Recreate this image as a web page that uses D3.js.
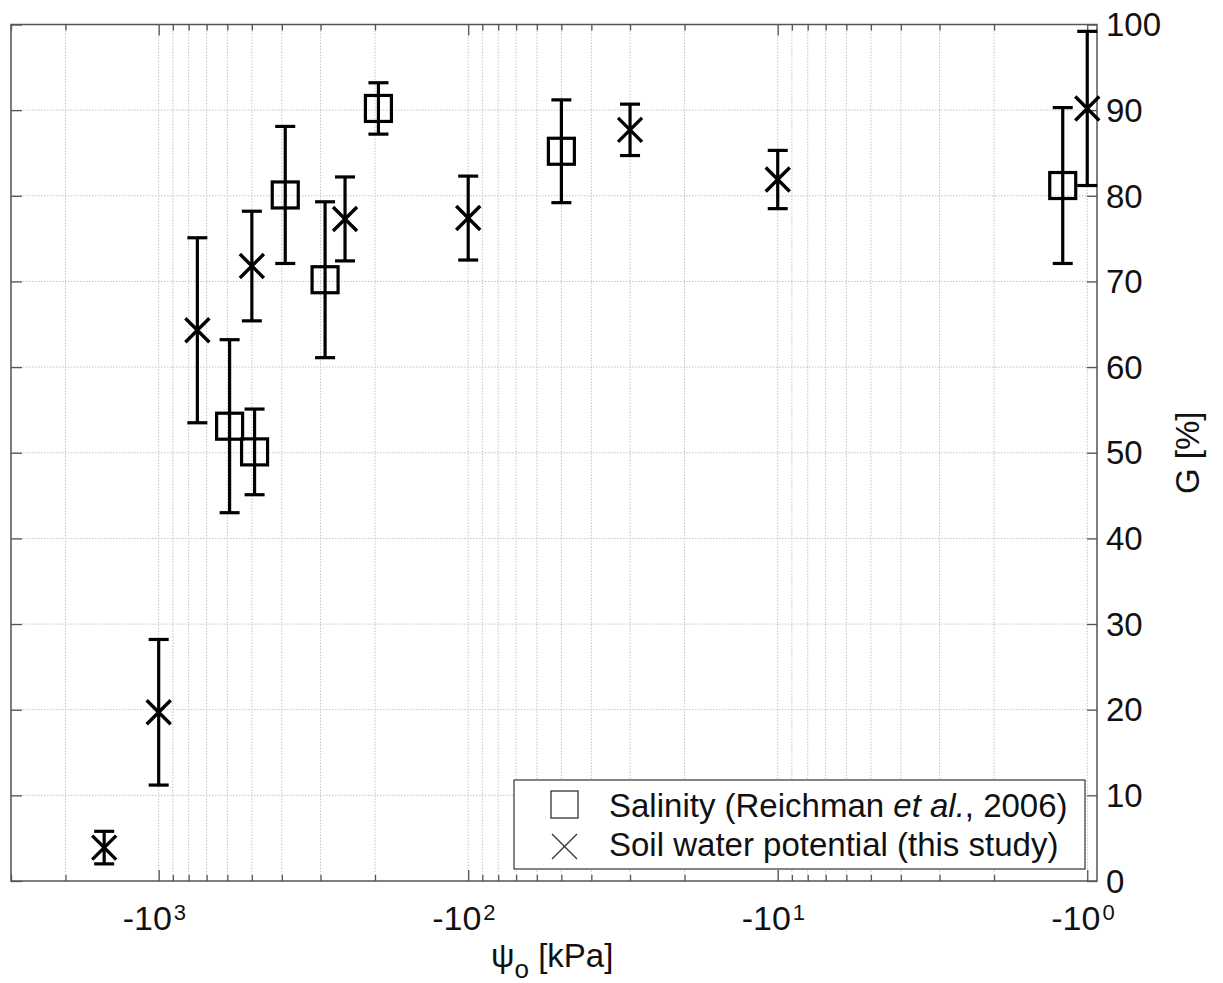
<!DOCTYPE html>
<html>
<head>
<meta charset="utf-8">
<script src="https://cdn.jsdelivr.net/npm/d3@7"></script>
<style>
  html, body { margin: 0; padding: 0; background: #fff; }
  svg { display: block; font-family: "Liberation Sans", Arial, sans-serif; }
</style>
</head>
<body>
<svg id="chart" width="1223" height="983"></svg>
<script>
// ---------------- data ----------------
// x values are magnitudes of osmotic potential (kPa); axis shows them as negatives
const salinityX   = [590, 490, 390, 290, 195, 50, 1.2];
const salinityG   = [53.1, 50.1, 80.1, 70.2, 90.2, 85.2, 81.2];
const salinityErr = [10.1, 5.0, 8.0, 9.1, 3.0, 6.0, 9.1];

const soilX   = [1500, 1000, 750, 500, 250, 100, 30, 10, 1];
const soilG   = [3.9, 19.7, 64.3, 71.8, 77.3, 77.4, 87.7, 81.9, 90.2];
const soilErr = [1.9, 8.5, 10.8, 6.4, 4.9, 4.9, 3.0, 3.4, 9.0];

const xDomain = [3000, 0.93];
const yDomain = [0, 100];
const xMajorTicks = [1000, 100, 10, 1];
const xTickExponents = ["3", "2", "1", "0"];
const yTicks = [0, 10, 20, 30, 40, 50, 60, 70, 80, 90, 100];

const legendLabels = ["Salinity (Reichman ", "et al.", ", 2006)"];
const legendLabel2 = "Soil water potential (this study)";
const xTitle = ["ψ", "o", " [kPa]"];
const yTitle = "G [%]";

// ---------------- layout ----------------
const L = 11, R = 1097, T = 24.5, B = 881;
const svg = d3.select("#chart");
const x = d3.scaleLog().domain(xDomain).range([L, R]);
const y = d3.scaleLinear().domain(yDomain).range([B, T]);

const allXTicks = x.ticks().filter(v => v <= xDomain[0] && v >= xDomain[1]);
const minorXTicks = allXTicks.filter(v => !xMajorTicks.includes(v));

// grid
const grid = svg.append("g").attr("stroke", "#c4c4c4").attr("stroke-width", 1)
  .attr("stroke-dasharray", "1.5,1.5").attr("fill", "none");
grid.selectAll("line.gx").data(allXTicks).join("line")
  .attr("x1", d => x(d)).attr("x2", d => x(d)).attr("y1", T).attr("y2", B);
grid.selectAll("line.gy").data(yTicks.filter(v => v > 0 && v < 100)).join("line")
  .attr("y1", d => y(d)).attr("y2", d => y(d)).attr("x1", L).attr("x2", R);

// axes (ticks inward)
function styleAxis(g) {
  g.select(".domain").remove();
  g.selectAll(".tick line").attr("stroke", "#555").attr("stroke-width", 1.3);
  g.selectAll("text").remove();
}
svg.append("g").attr("transform", `translate(0,${B})`)
  .call(d3.axisBottom(x).tickValues(minorXTicks).tickSize(-6)).call(styleAxis);
svg.append("g").attr("transform", `translate(0,${B})`)
  .call(d3.axisBottom(x).tickValues(xMajorTicks).tickSize(-11)).call(styleAxis);
svg.append("g").attr("transform", `translate(0,${T})`)
  .call(d3.axisTop(x).tickValues(minorXTicks).tickSize(-6)).call(styleAxis);
svg.append("g").attr("transform", `translate(0,${T})`)
  .call(d3.axisTop(x).tickValues(xMajorTicks).tickSize(-11)).call(styleAxis);
svg.append("g").attr("transform", `translate(${L},0)`)
  .call(d3.axisLeft(y).tickValues(yTicks).tickSize(-11)).call(styleAxis);

const yAxisR = svg.append("g").attr("transform", `translate(${R},0)`)
  .call(d3.axisRight(y).tickValues(yTicks).tickSize(-10).tickPadding(9));
yAxisR.select(".domain").remove();
yAxisR.selectAll(".tick line").attr("stroke", "#555").attr("stroke-width", 1.3);
yAxisR.selectAll("text").attr("font-size", 33).attr("fill", "#111")
  .attr("font-family", "Liberation Sans, Arial, sans-serif").attr("dy", "0.34em");

// frame
svg.append("rect").attr("x", L).attr("y", T).attr("width", R - L).attr("height", B - T)
  .attr("fill", "none").attr("stroke", "#555").attr("stroke-width", 1.5);

// x tick labels -10^k
const xl = svg.append("g").attr("fill", "#111");
xMajorTicks.forEach((v, i) => {
  const t = xl.append("text").attr("x", x(v) - 36).attr("y", 930).attr("font-size", 34);
  t.append("tspan").text("-10");
  t.append("tspan").attr("dx", 2).attr("dy", -10).attr("font-size", 22).text(xTickExponents[i]);
});

// axis titles
const xt = svg.append("text").attr("x", (L + R) / 2 - 63).attr("y", 967)
  .attr("font-size", 33).attr("fill", "#111");
xt.append("tspan").text(xTitle[0]);
xt.append("tspan").attr("dy", 11).attr("font-size", 26).text(xTitle[1]);
xt.append("tspan").attr("dy", -11).text(xTitle[2]);

svg.append("text").attr("transform", `translate(1199,${(T + B) / 2}) rotate(-90)`)
  .attr("text-anchor", "middle").attr("font-size", 33).attr("fill", "#111").text(yTitle);

// error bars
const capHalf = 10;
function errorBars(xs, gs, es) {
  const g = svg.append("g").attr("stroke", "#000").attr("stroke-width", 3.2).attr("fill", "none");
  xs.forEach((xv, i) => {
    const cx = x(xv), yt = y(gs[i] + es[i]), yb = y(gs[i] - es[i]);
    g.append("line").attr("x1", cx).attr("x2", cx).attr("y1", yt).attr("y2", yb);
    g.append("line").attr("x1", cx - capHalf).attr("x2", cx + capHalf).attr("y1", yt).attr("y2", yt);
    g.append("line").attr("x1", cx - capHalf).attr("x2", cx + capHalf).attr("y1", yb).attr("y2", yb);
  });
}
errorBars(salinityX, salinityG, salinityErr);
errorBars(soilX, soilG, soilErr);

// markers
const sq = 26, cr = 12;
svg.append("g").selectAll("rect").data(salinityX).join("rect")
  .attr("x", d => x(d) - sq / 2).attr("y", (d, i) => y(salinityG[i]) - sq / 2)
  .attr("width", sq).attr("height", sq)
  .attr("fill", "none").attr("stroke", "#000").attr("stroke-width", 3.2);
const crosses = svg.append("g").attr("stroke", "#000").attr("stroke-width", 3.4);
soilX.forEach((xv, i) => {
  const cx = x(xv), cy = y(soilG[i]);
  crosses.append("path").attr("d", `M${cx - cr},${cy - cr}L${cx + cr},${cy + cr}M${cx - cr},${cy + cr}L${cx + cr},${cy - cr}`);
});

// legend
const lg = svg.append("g");
lg.append("rect").attr("x", 514).attr("y", 780).attr("width", 571).attr("height", 89)
  .attr("fill", "#fff").attr("stroke", "#333").attr("stroke-width", 1.2);
lg.append("rect").attr("x", 551).attr("y", 791).attr("width", 27).attr("height", 27)
  .attr("fill", "none").attr("stroke", "#333").attr("stroke-width", 1.3);
lg.append("path").attr("d", "M552,834L577,859M552,859L577,834")
  .attr("stroke", "#333").attr("stroke-width", 1.3);
const l1 = lg.append("text").attr("x", 609).attr("y", 817).attr("font-size", 33).attr("fill", "#111");
l1.append("tspan").text(legendLabels[0]);
l1.append("tspan").attr("font-style", "italic").text(legendLabels[1]);
l1.append("tspan").text(legendLabels[2]);
lg.append("text").attr("x", 609).attr("y", 856).attr("font-size", 33).attr("fill", "#111").text(legendLabel2);
</script>
</body>
</html>
